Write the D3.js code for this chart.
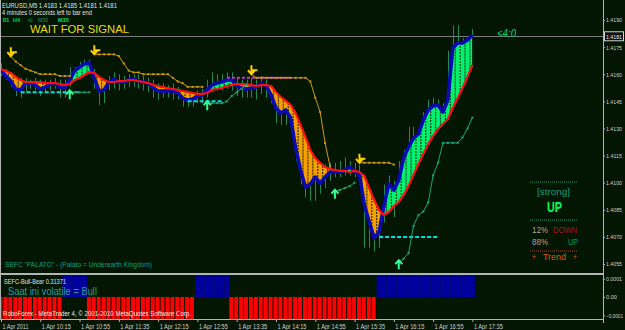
<!DOCTYPE html>
<html>
<head>
<meta charset="utf-8">
<script src="https://cdn.jsdelivr.net/npm/d3@7"></script>
<style>
  body { margin: 0; background: #021602; }
  svg { display: block; }
  text { font-family: "Liberation Sans", Arial, sans-serif; }
</style>
</head>
<body>
<div id="chart"></div>
<script>
// M5 bars, 1 Apr 2011 09:35 .. 17:35 (97 bars)
const timeLabels = ["1 Apr 2011", "1 Apr 10:15", "1 Apr 10:55", "1 Apr 11:35", "1 Apr 12:15", "1 Apr 12:55",
    "1 Apr 13:35", "1 Apr 14:15", "1 Apr 14:55", "1 Apr 15:35", "1 Apr 16:15", "1 Apr 16:55", "1 Apr 17:35"];
const priceTicks = [1.4190, 1.4175, 1.4160, 1.4145, 1.4130, 1.4115, 1.4100, 1.4085, 1.4070, 1.4055];
const subTicks = [0.0001, 0, -0.0001];
const bidPrice = 1.4181;

// fast line (blue) and slow line (red)
const blueLine = [
    1.41623, 1.41590, 1.41562, 1.41518, 1.41513, 1.41551, 1.41551, 1.41540, 1.41518, 1.41529,
    1.41546, 1.41546, 1.41529, 1.41524, 1.41568, 1.41618, 1.41640, 1.41657, 1.41662, 1.41579,
    1.41507, 1.41513, 1.41557, 1.41574, 1.41557, 1.41557, 1.41568, 1.41574, 1.41562, 1.41557,
    1.41551, 1.41524, 1.41507, 1.41507, 1.41507, 1.41507, 1.41496, 1.41468, 1.41457, 1.41463,
    1.41479, 1.41485, 1.41513, 1.41540, 1.41551, 1.41557, 1.41568, 1.41568, 1.41535, 1.41524,
    1.41518, 1.41524, 1.41529, 1.41551, 1.41535, 1.41485, 1.41413, 1.41385, 1.41402, 1.41358,
    1.41192, 1.41070, 1.40976, 1.40993, 1.41031, 1.40998, 1.41031, 1.41059, 1.41059, 1.41059,
    1.41070, 1.41087, 1.41065, 1.41042, 1.40876, 1.40782, 1.40694, 1.40727, 1.40876, 1.40993,
    1.40959, 1.41015, 1.41136, 1.41197, 1.41247, 1.41269, 1.41347, 1.41402, 1.41424, 1.41430,
    1.41391, 1.41457, 1.41745, 1.41773, 1.41773, 1.41789, 1.41817];
const redLine = [
    1.41629, 1.41618, 1.41607, 1.41585, 1.41568, 1.41557, 1.41557, 1.41557, 1.41557, 1.41551,
    1.41551, 1.41551, 1.41546, 1.41540, 1.41546, 1.41568, 1.41579, 1.41596, 1.41612, 1.41607,
    1.41585, 1.41568, 1.41557, 1.41557, 1.41562, 1.41562, 1.41568, 1.41568, 1.41562, 1.41557,
    1.41551, 1.41540, 1.41535, 1.41529, 1.41524, 1.41518, 1.41513, 1.41507, 1.41502, 1.41496,
    1.41491, 1.41491, 1.41496, 1.41513, 1.41518, 1.41524, 1.41535, 1.41540, 1.41546, 1.41546,
    1.41546, 1.41540, 1.41535, 1.41540, 1.41540, 1.41535, 1.41502, 1.41474, 1.41452, 1.41430,
    1.41385, 1.41319, 1.41253, 1.41181, 1.41136, 1.41109, 1.41087, 1.41076, 1.41070, 1.41065,
    1.41065, 1.41059, 1.41065, 1.41059, 1.41037, 1.40970, 1.40904, 1.40849, 1.40821, 1.40838,
    1.40871, 1.40893, 1.40932, 1.40982, 1.41042, 1.41103, 1.41159, 1.41214, 1.41258, 1.41297,
    1.41325, 1.41352, 1.41413, 1.41468, 1.41524, 1.41585, 1.41651];
const highs = [
    1.4166, 1.4163, 1.4161, 1.4159, 1.4158, 1.4158, 1.4157, 1.4158, 1.4157, 1.4157,
    1.4157, 1.4158, 1.4157, 1.4157, 1.4164, 1.4164, 1.4167, 1.4168, 1.4168, 1.4163,
    1.4157, 1.4156, 1.4159, 1.4161, 1.4160, 1.4159, 1.4160, 1.4160, 1.4160, 1.4159,
    1.4158, 1.4157, 1.4155, 1.4155, 1.4154, 1.4155, 1.4153, 1.4151, 1.4150, 1.4150,
    1.4151, 1.4152, 1.4157, 1.4161, 1.4160, 1.4160, 1.4161, 1.4161, 1.4158, 1.4157,
    1.4157, 1.4158, 1.4157, 1.4159, 1.4157, 1.4153, 1.4148, 1.4144, 1.4145, 1.4141,
    1.4135, 1.4121, 1.4107, 1.4106, 1.4110, 1.4107, 1.4110, 1.4111, 1.4111, 1.4112,
    1.4114, 1.4112, 1.4111, 1.4110, 1.4101, 1.4090, 1.4082, 1.4079, 1.4099, 1.4104,
    1.4101, 1.4112, 1.4118, 1.4131, 1.4131, 1.4129, 1.4139, 1.4146, 1.4147, 1.4146,
    1.4144, 1.4173, 1.4187, 1.4187, 1.4180, 1.4181, 1.4185];
const lows = [
    1.4159, 1.4157, 1.4153, 1.4148, 1.4147, 1.4150, 1.4152, 1.4151, 1.4148, 1.4150,
    1.4151, 1.4152, 1.4147, 1.4147, 1.4153, 1.4156, 1.4160, 1.4162, 1.4160, 1.4152,
    1.4143, 1.4144, 1.4151, 1.4152, 1.4151, 1.4152, 1.4153, 1.4153, 1.4152, 1.4151,
    1.4150, 1.4147, 1.4146, 1.4147, 1.4147, 1.4146, 1.4146, 1.4142, 1.4142, 1.4142,
    1.4144, 1.4144, 1.4147, 1.4150, 1.4151, 1.4151, 1.4152, 1.4151, 1.4148, 1.4147,
    1.4147, 1.4147, 1.4146, 1.4149, 1.4147, 1.4144, 1.4133, 1.4132, 1.4132, 1.4128,
    1.4112, 1.4099, 1.4092, 1.4090, 1.4090, 1.4094, 1.4097, 1.4101, 1.4103, 1.4103,
    1.4104, 1.4104, 1.4103, 1.4100, 1.4064, 1.4064, 1.4062, 1.4064, 1.4078, 1.4088,
    1.4081, 1.4090, 1.4101, 1.4110, 1.4115, 1.4118, 1.4124, 1.4132, 1.4135, 1.4136,
    1.4134, 1.4137, 1.4146, 1.4171, 1.4171, 1.4173, 1.4181];

// trailing stops: [first bar, values]
const sellStops = [
    [2, [1.4170, 1.4167, 1.4165, 1.4163, 1.4162, 1.4161, 1.4160, 1.4160, 1.4160, 1.4160, 1.4159, 1.4159, 1.4159]],
    [19, [1.4171, 1.4171, 1.4171, 1.4171, 1.4171, 1.4170, 1.4166, 1.4162, 1.4161, 1.4161, 1.4160, 1.4160,
          1.4160, 1.4160, 1.4160, 1.4160, 1.4158, 1.4156, 1.4155, 1.4153, 1.4153, 1.4153, 1.4153]],
    [51, [1.4160, 1.4158, 1.4158, 1.4158, 1.4158, 1.4158, 1.4158, 1.4158, 1.4158, 1.4158, 1.4158, 1.4158,
          1.4156, 1.4147, 1.4139, 1.4122, 1.4109]],
    [73, [1.4111, 1.4111, 1.4111, 1.4111, 1.4111, 1.4111, 1.4111, 1.4110]]
];
const buyStops = [
    [14, [1.4150, 1.4150, 1.4150, 1.4150, 1.4150]],
    [42, [1.4144, 1.4144, 1.4144, 1.4144, 1.4145, 1.4148, 1.4150, 1.4152, 1.4154]],
    [68, [1.4095, 1.4096, 1.4097, 1.4098, 1.4100]],
    [81, [1.4056, 1.4058, 1.4061, 1.4076, 1.4082, 1.4084, 1.4089, 1.4104, 1.4111, 1.4122, 1.4122,
          1.4122, 1.4122, 1.4125, 1.4130, 1.4136]]
];
// horizontal levels: [from bar, to bar, price]
const supportLevels = [[4, 16, 1.4150], [38, 45, 1.4145], [77, 89, 1.4070]];
const resistLevels = [[46, 59, 1.4158]];

// SEFC-Bull-Bear state per bar (1 bull, -1 bear)
const bullBear = [
    -1, -1, -1, -1, -1, -1, -1, -1, -1, -1, -1, -1, -1, 1, 1, 1, 1, 1, -1, -1,
    -1, -1, -1, -1, -1, -1, -1, -1, -1, -1, -1, -1, -1, -1, -1, -1, -1, -1, -1, -1,
    1, 1, 1, 1, 1, 1, 1, -1, -1, -1, -1, -1, -1, -1, -1, -1, -1, -1, -1, -1,
    -1, -1, -1, -1, -1, -1, -1, -1, -1, -1, -1, -1, -1, -1, -1, -1, -1, 1, 1, 1,
    1, 1, 1, 1, 1, 1, 1, 1, 1, 1, 1, 1, 1, 1, 1, 1, 1];

const width = 625, height = 330;
const right = 603, mainBottom = 274, subTop = 275, subBottom = 319;
const bg = "#021602";

const x = d3.scaleLinear().domain([0, 96]).range([1, 472.4]);
const y = d3.scaleLinear().domain([1.4055, 1.4190]).range([264, 20]);
const ySub = d3.scaleLinear().domain([-0.00012, 0.00012]).range([subBottom, subTop]).clamp(true);
const idx = d3.range(blueLine.length);

const svg = d3.select("#chart").append("svg")
    .attr("width", width)
    .attr("height", height);

svg.append("rect").attr("width", width).attr("height", height).attr("fill", bg);

const defs = svg.append("defs");
defs.append("clipPath").attr("id", "mainClip")
    .append("rect").attr("x", 1).attr("y", 0).attr("width", right - 1).attr("height", mainBottom - 1);
defs.append("clipPath").attr("id", "aboveRed")
    .append("path").attr("d", d3.area().x(i => x(i)).y0(0).y1(i => y(redLine[i]))(idx));
defs.append("clipPath").attr("id", "belowRed")
    .append("path").attr("d", d3.area().x(i => x(i)).y0(mainBottom).y1(i => y(redLine[i]))(idx));

const main = svg.append("g").attr("clip-path", "url(#mainClip)");

// bid line
main.append("line")
    .attr("x1", 0).attr("x2", right)
    .attr("y1", Math.round(y(bidPrice)) + 0.5).attr("y2", Math.round(y(bidPrice)) + 0.5)
    .attr("stroke", "#7a7a7a");

// bar wicks
main.selectAll(".wick")
    .data(idx)
    .enter()
    .append("line")
    .attr("class", "wick")
    .attr("x1", i => Math.round(x(i)) + 0.5)
    .attr("x2", i => Math.round(x(i)) + 0.5)
    .attr("y1", i => y(highs[i]))
    .attr("y2", i => y(lows[i]))
    .attr("stroke", "#1f8a5c")
    .attr("stroke-width", 1);

// band between fast and slow line
const band = d3.area().x(i => x(i)).y0(i => y(redLine[i])).y1(i => y(blueLine[i]));
main.append("path").attr("d", band(idx)).attr("fill", "#00f070").attr("clip-path", "url(#aboveRed)");
main.append("path").attr("d", band(idx)).attr("fill", "#f5a000").attr("clip-path", "url(#belowRed)");

// histogram gaps
main.selectAll(".gap")
    .data(idx.slice(0, -1))
    .enter()
    .append("line")
    .attr("class", "gap")
    .attr("x1", i => x(i + 0.5))
    .attr("x2", i => x(i + 0.5))
    .attr("y1", i => y((blueLine[i] + blueLine[i + 1]) / 2))
    .attr("y2", i => y((redLine[i] + redLine[i + 1]) / 2))
    .attr("stroke", bg)
    .attr("stroke-opacity", 0.8)
    .attr("stroke-width", 1.2)
    .attr("stroke-dasharray", "2,1");

main.append("path")
    .attr("d", d3.line().x(i => x(i)).y(i => y(blueLine[i]))(idx))
    .attr("fill", "none")
    .attr("stroke", "#0a0ab0")
    .attr("stroke-width", 3.6)
    .attr("stroke-linejoin", "round");

main.append("path")
    .attr("d", d3.line().x(i => x(i)).y(i => y(redLine[i]))(idx))
    .attr("fill", "none")
    .attr("stroke", "#ff1010")
    .attr("stroke-width", 2.2)
    .attr("stroke-linejoin", "round");

// support / resistance dashes
supportLevels.forEach(lv => {
    main.append("line")
        .attr("x1", x(lv[0])).attr("x2", x(lv[1]))
        .attr("y1", y(lv[2])).attr("y2", y(lv[2]))
        .attr("stroke", "#00dede").attr("stroke-width", 2)
        .attr("stroke-dasharray", "4,2");
});
resistLevels.forEach(lv => {
    main.append("line")
        .attr("x1", x(lv[0])).attr("x2", x(lv[1]))
        .attr("y1", y(lv[2])).attr("y2", y(lv[2]))
        .attr("stroke", "#c838c8").attr("stroke-width", 2)
        .attr("stroke-dasharray", "3,2");
});

// trailing stops
function drawStops(segs, color) {
    segs.forEach(seg => {
        const pts = seg[1].map((v, k) => [x(seg[0] + k), y(v)]);
        main.append("path")
            .attr("d", d3.line()(pts))
            .attr("fill", "none")
            .attr("stroke", color)
            .attr("stroke-width", 1);
        main.selectAll(null)
            .data(pts.slice(1))
            .enter()
            .append("rect")
            .attr("x", d => d[0] - 1).attr("y", d => d[1] - 1)
            .attr("width", 2).attr("height", 2)
            .attr("fill", color);
    });
}
drawStops(sellStops, "#d09a10");
drawStops(buyStops, "#1aa778");

// signal arrows at the start of each stop run
sellStops.forEach(seg => {
    const ax = x(seg[0]), ay = y(seg[1][0]);
    main.append("path")
        .attr("d", `M${ax},${ay - 9}V${ay}M${ax - 3.5},${ay - 4}L${ax},${ay}L${ax + 3.5},${ay - 4}M${ax},${ay - 4}H${ax + 6}`)
        .attr("fill", "none").attr("stroke", "#ffd000").attr("stroke-width", 2);
});
buyStops.forEach(seg => {
    const ax = x(seg[0]), ay = y(seg[1][0]);
    main.append("path")
        .attr("d", `M${ax},${ay + 7}V${ay - 2}M${ax - 3.5},${ay + 2}L${ax},${ay - 2}L${ax + 3.5},${ay + 2}`)
        .attr("fill", "none").attr("stroke", "#30ff98").attr("stroke-width", 2);
});

// sub window bars
svg.selectAll(".bb")
    .data(idx)
    .enter()
    .append("rect")
    .attr("class", "bb")
    .attr("x", i => x(i) - 2.45)
    .attr("width", i => bullBear[i] > 0 ? 4.91 : 3.9)
    .attr("y", i => Math.min(ySub(bullBear[i]), ySub(0)))
    .attr("height", i => Math.abs(ySub(bullBear[i]) - ySub(0)))
    .attr("fill", i => bullBear[i] > 0 ? "#00009c" : "#ff0000");

// frame
const frame = "#b4b4b4";
svg.append("line").attr("x1", 0.5).attr("x2", 0.5).attr("y1", 0).attr("y2", subBottom).attr("stroke", frame);
svg.append("line").attr("x1", 0).attr("x2", right).attr("y1", mainBottom).attr("y2", mainBottom)
    .attr("stroke", frame).attr("stroke-width", 2);
svg.append("line").attr("x1", 0).attr("x2", right).attr("y1", subBottom + 0.5).attr("y2", subBottom + 0.5).attr("stroke", frame);
svg.append("line").attr("x1", right + 0.5).attr("x2", right + 0.5).attr("y1", 0).attr("y2", subBottom + 4).attr("stroke", frame);

// price axis
const yAxis = d3.axisRight(y).tickValues(priceTicks).tickFormat(d3.format(".4f")).tickSize(2).tickPadding(1);
const gy = svg.append("g").attr("transform", `translate(${right},0)`).call(yAxis);
const subAxis = d3.axisRight(ySub).tickValues(subTicks)
    .tickFormat(d => d === 0 ? "0.00" : d3.format(".4f")(d)).tickSize(2).tickPadding(1);
const gs = svg.append("g").attr("transform", `translate(${right},0)`).call(subAxis);
[gy, gs].forEach(g => {
    g.select(".domain").remove();
    g.selectAll("line").attr("stroke", frame);
    g.selectAll("text").attr("fill", "#d0d0d0").attr("font-size", "6px")
        .attr("lengthAdjust", "spacingAndGlyphs");
});
gy.selectAll("text").attr("textLength", 16);
gs.selectAll("text")
    .attr("font-size", d => d < 0 ? "5.4px" : "6px")
    .attr("textLength", d => d === 0 ? 11 : (d < 0 ? 17 : 16));

// bid label
const by = y(bidPrice);
svg.append("rect").attr("x", 604.5).attr("y", by - 4.5).attr("width", 19).attr("height", 9)
    .attr("fill", "#101010").attr("stroke", "#d0d0d0");
svg.append("text").attr("x", 606).attr("y", by + 2.5).attr("font-size", "6px").attr("fill", "#e8e8e8")
    .attr("textLength", 16).attr("lengthAdjust", "spacingAndGlyphs").text(d3.format(".4f")(bidPrice));

// time axis
const xAxis = d3.axisBottom(x).tickValues(d3.range(0, 97, 8))
    .tickFormat((d, i) => timeLabels[i]).tickSize(3).tickPadding(2);
const gx = svg.append("g").attr("transform", `translate(0,${subBottom})`).call(xAxis);
gx.select(".domain").remove();
gx.selectAll("line").attr("stroke", frame);
gx.selectAll("text")
    .attr("text-anchor", "start").attr("x", 1)
    .attr("fill", "#d0d0d0").attr("font-size", "6.5px")
    .attr("textLength", (d, i) => i === 0 ? 26 : 29)
    .attr("lengthAdjust", "spacingAndGlyphs");

// texts
function label(txt, tx, ty, size, color, len, extra) {
    const t = svg.append("text")
        .attr("x", tx).attr("y", ty)
        .attr("font-size", size + "px")
        .attr("fill", color)
        .text(txt);
    if (len) t.attr("textLength", len).attr("lengthAdjust", "spacingAndGlyphs");
    if (extra) Object.keys(extra).forEach(k => t.attr(k, extra[k]));
    return t;
}
label("EURUSD,M5  1.4183 1.4185 1.4181 1.4181", 2, 8, 7, "#e0e0e0", 115);
label("4 minutes 0 seconds left to bar end", 2, 14.5, 6.5, "#e0e0e0", 90);
label("D1", 3, 21.5, 6, "#00e070", 6, {"font-weight": "bold"});
label("H4", 13, 21.5, 6, "#00d068", 7, {"font-weight": "bold"});
label("H1", 28, 21.5, 6, "#2a9a68", 5);
label("M30", 38, 21.5, 6, "#2a9a68", 10);
label("M15", 58, 21.5, 6, "#00e070", 11, {"font-weight": "bold"});
label("WAIT FOR SIGNAL", 30, 32.5, 11.5, "#e8dc10", 99);
label("<4:0", 497, 37, 10, "#00d878", 19, {"font-style": "italic"});

// trend box
[[182, "#1a9a7a"], [220, "#1a9a7a"], [251, "#b04010"]].forEach(d => {
    svg.append("line").attr("x1", 530).attr("x2", 578).attr("y1", d[0]).attr("y2", d[0])
        .attr("stroke", d[1]).attr("stroke-dasharray", "1,1");
});
label("[strong]", 537, 195, 9, "#1a9a7a", 33);
label("UP", 547, 212, 15, "#00ff5a", 15, {"font-weight": "bold"});
label("12%", 532, 233, 9, "#b8a090", 16);
label("DOWN", 553, 233, 9, "#b0102a", 24);
label("88%", 532, 245, 9, "#b8a090", 16);
label("UP", 568, 245, 9, "#00a070", 10);
label("+", 532, 260, 9, "#d86010", 4);
label("Trend", 543, 260, 9, "#d86010", 23);
label("+", 573, 260, 9, "#d86010", 4);

label("SEFC \"PALATO\" - (Palato = Underearth Kingdom)", 5, 267, 7, "#10a080", 147);
label("SEFC-Bull-Bear 0.31371", 4, 284, 7, "#e0e0e0", 62);
label("Saat ini volatile = Bull", 8, 295, 11, "#20a0a0", 89);
label("RoboForex - MetaTrader 4, \u00a9 2001-2010 MetaQuotes Software Corp.", 3, 316, 7, "#f0f0f0", 188);
</script>
</body>
</html>
